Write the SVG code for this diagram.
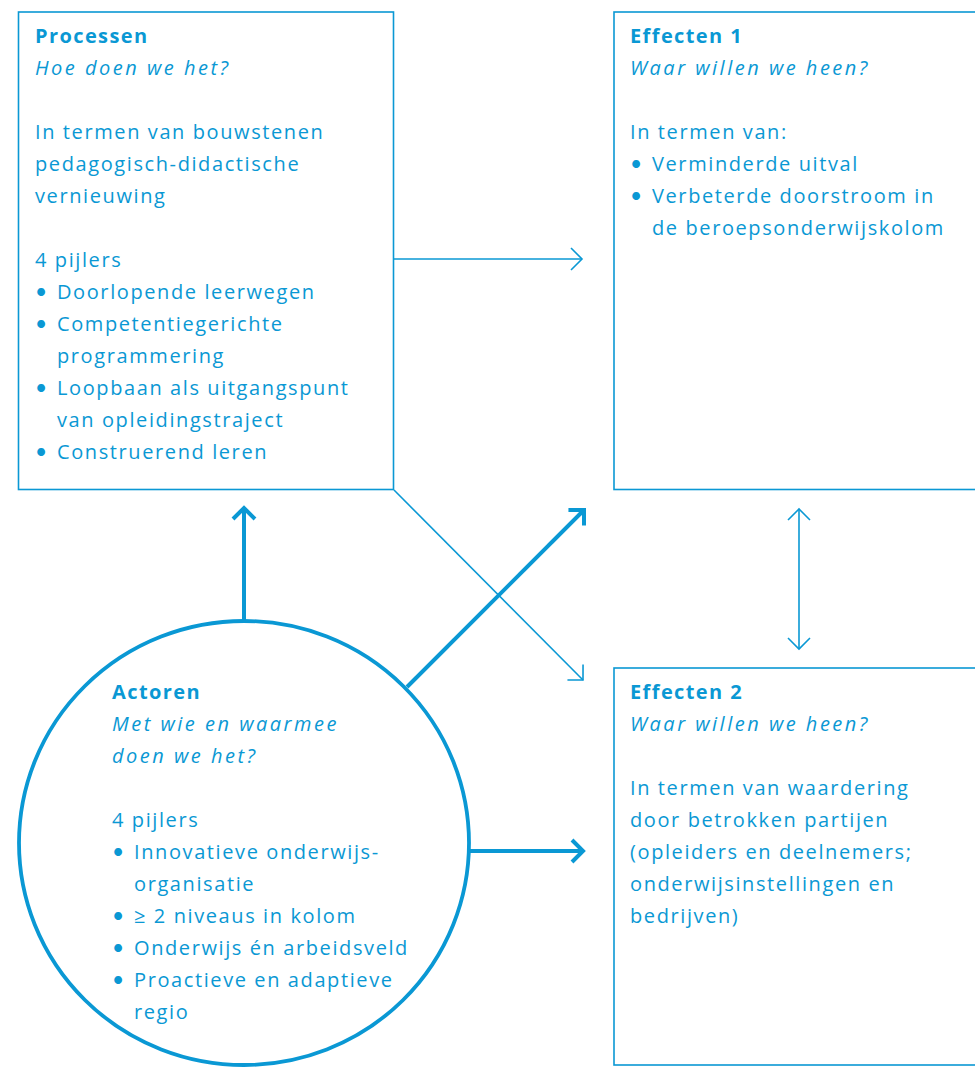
<svg xmlns="http://www.w3.org/2000/svg" width="975" height="1067" viewBox="0 0 975 1067">
  <style>
    .box { fill: none; stroke: #0a98d4; stroke-width: 1.6; }
    .ring { fill: none; stroke: #0a98d4; stroke-width: 3.8; }
    .thin { fill: none; stroke: #0a98d4; stroke-width: 1.6; }
    .thick { fill: none; stroke: #0a98d4; stroke-width: 4; }
    text { font-family: "Open Sans", Lato, "Liberation Sans", sans-serif; font-size: 20px; letter-spacing: 1.6px; fill: #0a98d4; }
    .title { font-weight: bold; letter-spacing: 1.4px; }
    .q { font-style: italic; letter-spacing: 2.5px; }
    .dot { font-family: Lato, "Liberation Sans", sans-serif; font-size: 21px; letter-spacing: 0; }
  </style>
  <defs>
    <marker id="headThin" markerUnits="userSpaceOnUse" viewBox="-14 -14 16 28" refX="0" refY="0" markerWidth="16" markerHeight="28" orient="auto-start-reverse" overflow="visible">
      <path d="M-11,-11 L0,0 L-11,11" fill="none" stroke="#0a98d4" stroke-width="1.6"/>
    </marker>
    <marker id="headThick" markerUnits="userSpaceOnUse" viewBox="-16 -16 20 32" refX="0" refY="0" markerWidth="20" markerHeight="32" orient="auto" overflow="visible">
      <path d="M-11,-11 L0,0 L-11,11" fill="none" stroke="#0a98d4" stroke-width="4" stroke-linejoin="miter"/>
    </marker>
  </defs>

  <!-- connectors -->
  <g id="connectors">
    <path class="thin" d="M394,259 H582" marker-end="url(#headThin)"/>
    <path class="thin" d="M394,490 L583,680" marker-end="url(#headThin)"/>
    <path class="thick" d="M407,687 L584,510" marker-end="url(#headThick)"/>
    <path class="thick" d="M244,620 V508" marker-end="url(#headThick)"/>
    <path class="thick" d="M469,851 H583" marker-end="url(#headThick)"/>
    <path class="thin" d="M799,509 V649" marker-start="url(#headThin)" marker-end="url(#headThin)"/>
  </g>

  <!-- Processen -->
  <g id="processen">
    <rect class="box" x="18.5" y="12" width="375" height="477.5"/>
    <text x="35" y="43" class="title">Processen</text>
    <text x="35" y="75" class="q">Hoe doen we het?</text>
    <text x="35" y="139">In termen van bouwstenen</text>
    <text x="35" y="171">pedagogisch-didactische</text>
    <text x="35" y="203">vernieuwing</text>
    <text x="35" y="267">4 pijlers</text>
    <text x="35" y="299" class="dot">•</text><text x="57" y="299">Doorlopende leerwegen</text>
    <text x="35" y="331" class="dot">•</text><text x="57" y="331">Competentiegerichte</text>
    <text x="57" y="363">programmering</text>
    <text x="35" y="395" class="dot">•</text><text x="57" y="395">Loopbaan als uitgangspunt</text>
    <text x="57" y="427">van opleidingstraject</text>
    <text x="35" y="459" class="dot">•</text><text x="57" y="459">Construerend leren</text>
  </g>

  <!-- Effecten 1 -->
  <g id="effecten1">
    <rect class="box" x="614" y="12" width="380" height="477.5"/>
    <text x="630" y="43" class="title">Effecten 1</text>
    <text x="630" y="75" class="q">Waar willen we heen?</text>
    <text x="630" y="139">In termen van:</text>
    <text x="630" y="171" class="dot">•</text><text x="652" y="171">Verminderde uitval</text>
    <text x="630" y="203" class="dot">•</text><text x="652" y="203">Verbeterde doorstroom in</text>
    <text x="652" y="235">de beroepsonderwijskolom</text>
  </g>

  <!-- Effecten 2 -->
  <g id="effecten2">
    <rect class="box" x="614" y="668" width="380" height="397"/>
    <text x="630" y="699" class="title">Effecten 2</text>
    <text x="630" y="731" class="q">Waar willen we heen?</text>
    <text x="630" y="795">In termen van waardering</text>
    <text x="630" y="827">door betrokken partijen</text>
    <text x="630" y="859">(opleiders en deelnemers;</text>
    <text x="630" y="891">onderwijsinstellingen en</text>
    <text x="630" y="923">bedrijven)</text>
  </g>

  <!-- Actoren -->
  <g id="actoren">
    <ellipse class="ring" cx="244" cy="843" rx="225" ry="222"/>
    <text x="112" y="699" class="title">Actoren</text>
    <text x="112" y="731" class="q">Met wie en waarmee</text>
    <text x="112" y="763" class="q">doen we het?</text>
    <text x="112" y="827">4 pijlers</text>
    <text x="112" y="859" class="dot">•</text><text x="134" y="859">Innovatieve onderwijs-</text>
    <text x="134" y="891">organisatie</text>
    <text x="112" y="923" class="dot">•</text><text x="134" y="923">≥ 2 niveaus in kolom</text>
    <text x="112" y="955" class="dot">•</text><text x="134" y="955">Onderwijs én arbeidsveld</text>
    <text x="112" y="987" class="dot">•</text><text x="134" y="987">Proactieve en adaptieve</text>
    <text x="134" y="1019">regio</text>
  </g>
</svg>
